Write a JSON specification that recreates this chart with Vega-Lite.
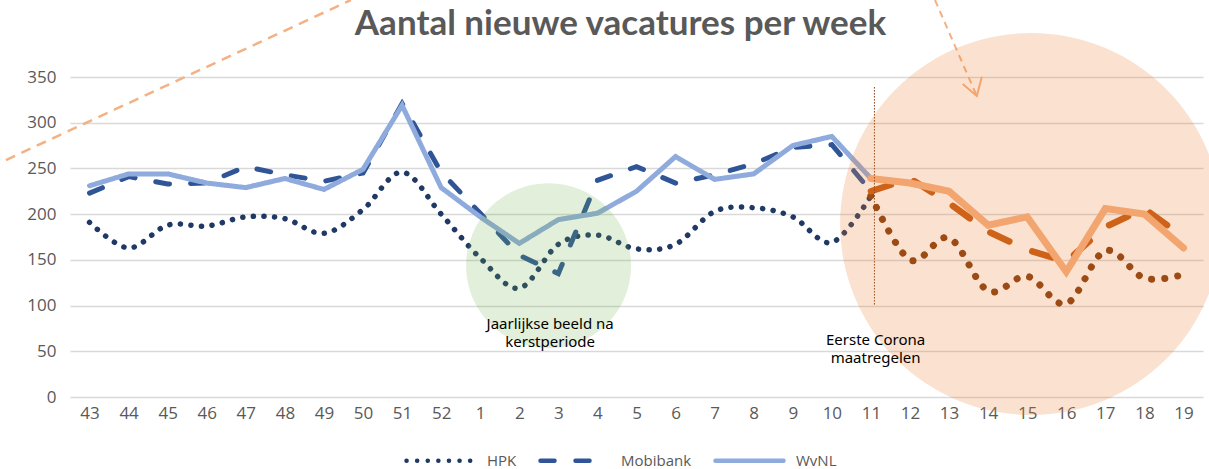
{
  "$schema": "https://vega.github.io/schema/vega-lite/v6.json",
  "autosize": "none",
  "width": 1133,
  "height": 320,
  "padding": {"left": 70, "top": 77, "right": 6, "bottom": 72},
  "background": "#ffffff",
  "config": {
    "view": {"stroke": null},
    "axis": {"labelFont": "Open Sans", "labelFontSize": 17, "labelColor": "#595959"},
    "legend": {"labelFont": "Open Sans", "labelFontSize": 15, "labelColor": "#595959"}
  },
  "title": {
    "text": "Aantal nieuwe vacatures per week",
    "font": "Lato",
    "fontSize": 35,
    "fontWeight": "bold",
    "color": "#595959",
    "anchor": "middle",
    "baseline": "alphabetic",
    "dx": -16,
    "offset": -75
  },
  "datasets": {
    "main": [
      {"i": 0, "week": "43", "HPK": 191, "Mobibank": 223, "WvNL": 231},
      {"i": 1, "week": "44", "HPK": 163, "Mobibank": 241, "WvNL": 244},
      {"i": 2, "week": "45", "HPK": 188, "Mobibank": 233, "WvNL": 244},
      {"i": 3, "week": "46", "HPK": 187, "Mobibank": 234, "WvNL": 234},
      {"i": 4, "week": "47", "HPK": 197, "Mobibank": 252, "WvNL": 229},
      {"i": 5, "week": "48", "HPK": 195, "Mobibank": 243, "WvNL": 239},
      {"i": 6, "week": "49", "HPK": 179, "Mobibank": 236, "WvNL": 227},
      {"i": 7, "week": "50", "HPK": 205, "Mobibank": 245, "WvNL": 249},
      {"i": 8, "week": "51", "HPK": 246, "Mobibank": 321, "WvNL": 319},
      {"i": 9, "week": "52", "HPK": 200, "Mobibank": 246, "WvNL": 229},
      {"i": 10, "week": "1", "HPK": 152, "Mobibank": 201, "WvNL": 197},
      {"i": 11, "week": "2", "HPK": 119, "Mobibank": 155, "WvNL": 168},
      {"i": 12, "week": "3", "HPK": 167, "Mobibank": 135, "WvNL": 194},
      {"i": 13, "week": "4", "HPK": 177, "Mobibank": 237, "WvNL": 201},
      {"i": 14, "week": "5", "HPK": 162, "Mobibank": 252, "WvNL": 225},
      {"i": 15, "week": "6", "HPK": 167, "Mobibank": 234, "WvNL": 263},
      {"i": 16, "week": "7", "HPK": 203, "Mobibank": 243, "WvNL": 238},
      {"i": 17, "week": "8", "HPK": 207, "Mobibank": 255, "WvNL": 244},
      {"i": 18, "week": "9", "HPK": 197, "Mobibank": 273, "WvNL": 275},
      {"i": 19, "week": "10", "HPK": 169, "Mobibank": 276, "WvNL": 285},
      {"i": 20, "week": "11", "HPK": 220, "Mobibank": 225, "WvNL": 239},
      {"i": 21, "week": "12", "HPK": 150, "Mobibank": 239, "WvNL": 234},
      {"i": 22, "week": "13", "HPK": 174, "Mobibank": 212, "WvNL": 225},
      {"i": 23, "week": "14", "HPK": 116, "Mobibank": 181, "WvNL": 188},
      {"i": 24, "week": "15", "HPK": 132, "Mobibank": 161, "WvNL": 197},
      {"i": 25, "week": "16", "HPK": 102, "Mobibank": 148, "WvNL": 137},
      {"i": 26, "week": "17", "HPK": 160, "Mobibank": 186, "WvNL": 206},
      {"i": 27, "week": "18", "HPK": 130, "Mobibank": 206, "WvNL": 200},
      {"i": 28, "week": "19", "HPK": 134, "Mobibank": 175, "WvNL": 163}
    ],
    "decor": [
      {"g": "a", "o": 0, "x": -2.14, "y": 259.2},
      {"g": "a", "o": 1, "x": 6.69, "y": 434.2},
      {"g": "b", "o": 0, "x": 21.64, "y": 434.2},
      {"g": "b", "o": 1, "x": 22.71, "y": 329.2},
      {"g": "c", "o": 0, "x": 22.35, "y": 342.3},
      {"g": "c", "o": 1, "x": 22.71, "y": 329.2},
      {"g": "c", "o": 2, "x": 22.84, "y": 350.3}
    ],
    "marker": [{"x": 20.09, "y": 339, "y2": 100}],
    "notes": [
      {"x": 11.79, "y": 80, "t": "Jaarlijkse beeld na\nkerstperiode"},
      {"x": 20.12, "y": 62, "t": "Eerste Corona\nmaatregelen"}
    ],
    "circles": [
      {"c": "green", "x": 11.75, "y": 143.6},
      {"c": "orange", "x": 24.1, "y": 189.2}
    ]
  },
  "encoding": {
    "x": {
      "field": "x", "type": "quantitative",
      "scale": {"domain": [-0.5, 28.5], "nice": false, "zero": false},
      "axis": {
        "values": [0,1,2,3,4,5,6,7,8,9,10,11,12,13,14,15,16,17,18,19,20,21,22,23,24,25,26,27,28],
        "labelExpr": "['43','44','45','46','47','48','49','50','51','52','1','2','3','4','5','6','7','8','9','10','11','12','13','14','15','16','17','18','19'][datum.value]",
        "grid": false, "ticks": false, "domain": false, "title": null, "labelPadding": 8
      }
    },
    "y": {
      "field": "y", "type": "quantitative",
      "scale": {"domain": [0, 350], "nice": false, "zero": true},
      "axis": {
        "values": [0, 50, 100, 150, 200, 250, 300, 350],
        "grid": true, "gridColor": "#d9d9d9", "gridWidth": 1.5,
        "ticks": false, "domain": false, "title": null, "labelPadding": 14
      }
    }
  },
  "layer": [
    {
      "data": {"name": "decor"},
      "transform": [{"filter": "datum.g == 'a'"}],
      "mark": {"type": "line", "color": "#f4b183", "strokeWidth": 2.5, "strokeDash": [10, 7]},
      "encoding": {"order": {"field": "o", "type": "quantitative"}}
    },
    {
      "data": {"name": "decor"},
      "transform": [{"filter": "datum.g == 'b'"}],
      "mark": {"type": "line", "color": "#f4b183", "strokeWidth": 2, "strokeDash": [7, 5]},
      "encoding": {"order": {"field": "o", "type": "quantitative"}}
    },
    {
      "data": {"name": "decor"},
      "transform": [{"filter": "datum.g == 'c'"}],
      "mark": {"type": "line", "color": "#f4b183", "strokeWidth": 2},
      "encoding": {"order": {"field": "o", "type": "quantitative"}}
    },
    {
      "data": {"name": "main"},
      "transform": [
        {"filter": "datum.i <= 20"},
        {"fold": ["HPK"], "as": ["series", "y"]},
        {"calculate": "datum.i", "as": "x"}
      ],
      "mark": {"type": "line", "interpolate": "cardinal", "strokeWidth": 5.5, "strokeCap": "round"},
      "encoding": {
        "color": {"field": "series", "type": "nominal", "title": null,
          "scale": {"domain": ["HPK", "Mobibank", "WvNL"], "range": ["#1f3864", "#2f5597", "#8faadc"]},
          "legend": {"orient": "none", "legendX": 334, "legendY": 347, "padding": 0, "direction": "horizontal", "symbolType": "stroke", "symbolSize": 4624, "symbolStrokeWidth": 4.5, "labelOffset": 10, "columnPadding": 14, "title": null,
            "encode": {"symbols": {"update": {"strokeCap": {"value": "round"}}}}}},
        "strokeDash": {"field": "series", "type": "nominal", "title": null,
          "scale": {"domain": ["HPK", "Mobibank", "WvNL"], "range": [[0.1, 10.5], [14, 21], [1, 0]]},
          "legend": {"orient": "none", "legendX": 334, "legendY": 347, "padding": 0, "direction": "horizontal", "symbolType": "stroke", "symbolSize": 4624, "symbolStrokeWidth": 4.5, "labelOffset": 10, "columnPadding": 14, "title": null,
            "encode": {"symbols": {"update": {"strokeCap": {"value": "round"}}}}}}
      }
    },
    {
      "data": {"name": "main"},
      "transform": [
        {"filter": "datum.i <= 20"},
        {"fold": ["Mobibank", "WvNL"], "as": ["series", "y"]},
        {"calculate": "datum.i", "as": "x"}
      ],
      "mark": {"type": "line", "strokeWidth": 5, "strokeCap": "round"},
      "encoding": {
        "color": {"field": "series", "type": "nominal"},
        "strokeDash": {"field": "series", "type": "nominal"}
      }
    },
    {
      "data": {"name": "main"},
      "transform": [
        {"filter": "datum.i >= 20"},
        {"fold": ["HPK"], "as": ["series", "y"]},
        {"calculate": "datum.i", "as": "x"}
      ],
      "mark": {"type": "line", "interpolate": "cardinal", "color": "#843c0c", "strokeWidth": 7, "strokeCap": "round", "strokeDash": [0.1, 13]},
      "encoding": {}
    },
    {
      "data": {"name": "main"},
      "transform": [
        {"filter": "datum.i >= 20"},
        {"fold": ["Mobibank"], "as": ["series", "y"]},
        {"calculate": "datum.i", "as": "x"}
      ],
      "mark": {"type": "line", "color": "#c55a11", "strokeWidth": 6.5, "strokeCap": "round", "strokeDash": [21, 25]},
      "encoding": {}
    },
    {
      "data": {"name": "main"},
      "transform": [
        {"filter": "datum.i >= 20"},
        {"fold": ["WvNL"], "as": ["series", "y"]},
        {"calculate": "datum.i", "as": "x"}
      ],
      "mark": {"type": "line", "color": "#f4b183", "strokeWidth": 7, "strokeCap": "round"},
      "encoding": {}
    },
    {
      "data": {"name": "marker"},
      "mark": {"type": "rule", "color": "#843c0c", "strokeWidth": 1, "strokeDash": [1.5, 1.5]},
      "encoding": {"y2": {"field": "y2"}}
    },
    {
      "data": {"name": "circles"},
      "transform": [{"filter": "datum.c == 'green'"}],
      "mark": {"type": "point", "shape": "circle", "filled": true, "color": "#70ad47", "opacity": 0.2, "size": 27225}
    },
    {
      "data": {"name": "circles"},
      "transform": [{"filter": "datum.c == 'orange'"}],
      "mark": {"type": "point", "shape": "circle", "filled": true, "color": "#ed7d31", "opacity": 0.23, "size": 145924}
    },
    {
      "data": {"name": "notes"},
      "mark": {"type": "text", "font": "Noto Sans", "fontSize": 15, "color": "#000000", "lineBreak": "\n", "lineHeight": 18, "baseline": "middle", "align": "center"},
      "encoding": {"text": {"field": "t"}}
    }
  ]
}
